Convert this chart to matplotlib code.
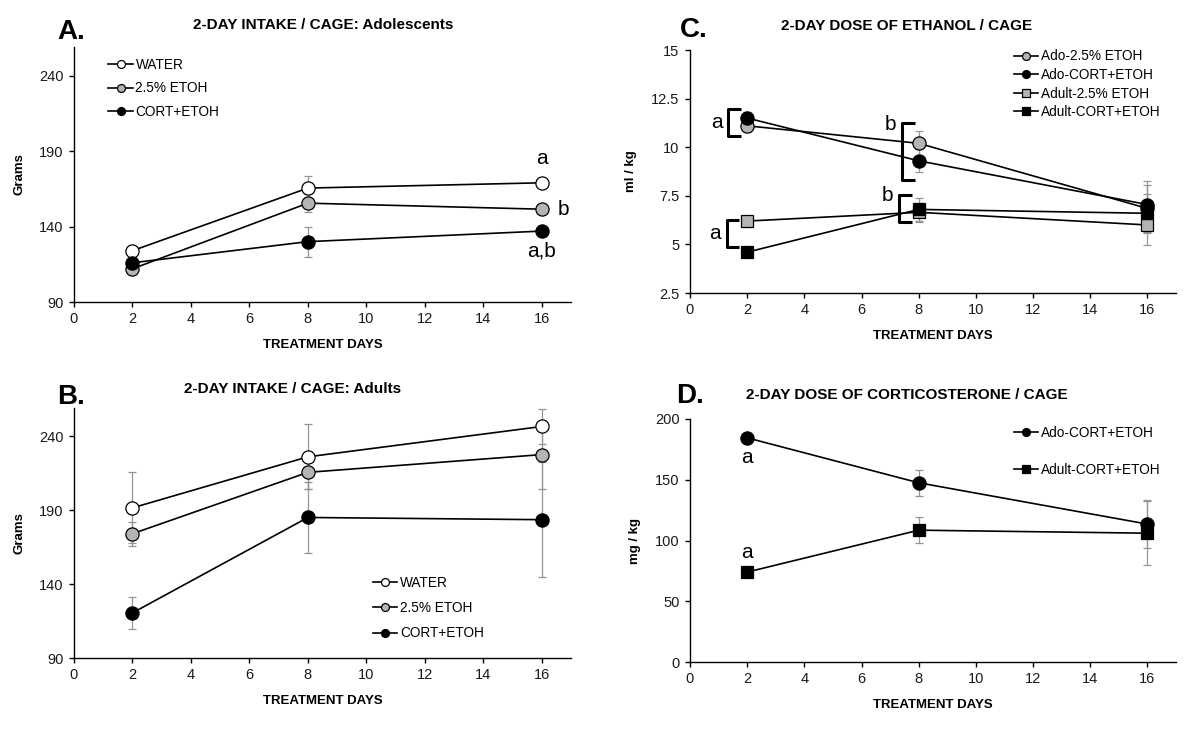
import matplotlib
matplotlib.use("Agg")
import matplotlib.pyplot as plt
import numpy as np

plt.rcParams['font.family'] = ['Liberation Sans', 'DejaVu Sans']

days = [2, 8, 16]

# Panel A: adolescents intake (grams)
a_water = [124, 165.5, 169]
a_water_err = [3, 8, 2]
a_etoh = [112, 155.5, 151.5]
a_etoh_err = [2, 6, 2]
a_cort = [116, 130, 137]
a_cort_err = [3, 10, 2]

# Panel B: adults intake (grams)
b_water = [191.5, 226, 246.5]
b_water_err = [24, 22, 12]
b_etoh = [174, 215.5, 227.5]
b_etoh_err = [8, 11, 23]
b_cort = [120.5, 185, 183.5]
b_cort_err = [11, 24, 39]

# Panel C: ethanol dose (ml/kg)
c_ado_etoh = [11.1, 10.2, 6.85]
c_ado_etoh_err = [0.3, 0.65, 1.2]
c_ado_cort = [11.5, 9.3, 7.05]
c_ado_cort_err = [0.3, 0.6, 1.2]
c_adult_etoh = [6.2, 6.65, 6.0]
c_adult_etoh_err = [0.2, 0.5, 1.05]
c_adult_cort = [4.6, 6.8, 6.6]
c_adult_cort_err = [0.2, 0.6, 1.0]

# Panel D: corticosterone dose (mg/kg)
d_ado_cort = [184.5, 147.5, 113.5]
d_ado_cort_err = [2, 10.5, 19.5]
d_adult_cort = [74, 108.5, 106]
d_adult_cort_err = [2, 10.5, 26.5]

W, H = 1200, 735
fig = plt.figure(figsize=(12, 7.35), dpi=100)

def px_axes(x0, x1, ytop, ybot):
    return fig.add_axes([x0 / W, 1 - ybot / H, (x1 - x0) / W, (ybot - ytop) / H])

axA = px_axes(74, 571, 47, 302)
axB = px_axes(74, 571, 408, 658)
axC = px_axes(690, 1176, 50, 293)
axD = px_axes(690, 1176, 419, 662)

ERRC = '#959595'
GRAY = '#b4b4b4'
TXT = '#1a1a1a'

def series(ax, y, err, marker, face, label, ms=9.5):
    ax.errorbar(days, y, yerr=err, fmt='none', ecolor=ERRC, elinewidth=0.9,
                capsize=3, capthick=0.9, zorder=2)
    ax.plot(days, y, color='black', lw=1.2, marker=marker, ms=ms,
            mfc=face, mec='black', mew=0.9, label=label, zorder=3)

def style(ax, ylim, yticks, ylabel, yfmt=None):
    ax.set_xlim(0, 17)
    ax.set_ylim(*ylim)
    ax.set_xticks(range(0, 17, 2))
    ax.set_yticks(yticks)
    if yfmt:
        ax.set_yticklabels([yfmt(v) for v in yticks])
    for s in ['top', 'right']:
        ax.spines[s].set_visible(False)
    for s in ['left', 'bottom']:
        ax.spines[s].set_linewidth(1.0)
    ax.tick_params(direction='out', length=3.5, width=1.0, labelsize=10.5, pad=4,
                   colors='black', labelcolor=TXT)
    ax.set_xlabel('TREATMENT DAYS', fontsize=9.5, fontweight='bold', labelpad=9)
    ax.set_ylabel(ylabel, fontsize=9.5, fontweight='bold', labelpad=10)

LEG = dict(frameon=False, fontsize=9.8, handlelength=1.8, handletextpad=0.2,
           markerscale=0.6, borderaxespad=0, loc='upper left')

# ---- Panel A
series(axA, a_water, a_water_err, 'o', 'white', 'WATER')
series(axA, a_etoh, a_etoh_err, 'o', GRAY, '2.5% ETOH')
series(axA, a_cort, a_cort_err, 'o', 'black', 'CORT+ETOH')
style(axA, (90, 259), [90, 140, 190, 240], 'Grams')
axA.legend(bbox_to_anchor=(0.058, 0.98), labelspacing=0.72, **LEG)
axA.text(days[2], a_water[2] + 10, 'a', ha='center', va='bottom', fontsize=15)
axA.text(days[2] + 0.55, a_etoh[2], 'b', ha='left', va='center', fontsize=15)
axA.text(days[2], a_cort[2] - 7, 'a,b', ha='center', va='top', fontsize=15)

# ---- Panel B
series(axB, b_water, b_water_err, 'o', 'white', 'WATER')
series(axB, b_etoh, b_etoh_err, 'o', GRAY, '2.5% ETOH')
series(axB, b_cort, b_cort_err, 'o', 'black', 'CORT+ETOH')
style(axB, (90, 259), [90, 140, 190, 240], 'Grams')
axB.legend(bbox_to_anchor=(0.59, 0.35), labelspacing=0.82, **LEG)

# ---- Panel C
series(axC, c_ado_etoh, c_ado_etoh_err, 'o', GRAY, 'Ado-2.5% ETOH')
series(axC, c_ado_cort, c_ado_cort_err, 'o', 'black', 'Ado-CORT+ETOH')
series(axC, c_adult_etoh, c_adult_etoh_err, 's', GRAY, 'Adult-2.5% ETOH', ms=8.5)
series(axC, c_adult_cort, c_adult_cort_err, 's', 'black', 'Adult-CORT+ETOH', ms=8.5)
style(axC, (2.5, 15), [2.5, 5, 7.5, 10, 12.5, 15], 'ml / kg',
      yfmt=lambda v: ('%g' % v))
axC.legend(bbox_to_anchor=(0.655, 1.025), labelspacing=0.34, **LEG)

# brackets (annotation spans, in data units)
br_day = [2, 8, 2, 8]
br_lo = [10.57, 8.32, 4.87, 6.17]
br_hi = [11.97, 11.22, 6.28, 7.54]
br_lab = ['a', 'b', 'a', 'b']
br_off = [0.67, 0.58, 0.72, 0.7]
for d, lo, hi, lab, off in zip(br_day, br_lo, br_hi, br_lab, br_off):
    x0 = d - off
    x1 = x0 + 0.45
    axC.plot([x1, x0, x0, x1], [hi, hi, lo, lo], color='black', lw=2.2,
             solid_capstyle='butt', zorder=4)
    ytxt = (lo + hi) / 2 if d == 2 else hi - 0.05
    axC.text(x0 - 0.2, ytxt, lab, ha='right', va='center', fontsize=15)

# ---- Panel D
series(axD, d_ado_cort, d_ado_cort_err, 'o', 'black', 'Ado-CORT+ETOH')
series(axD, d_adult_cort, d_adult_cort_err, 's', 'black', 'Adult-CORT+ETOH', ms=8.5)
style(axD, (0, 200), [0, 50, 100, 150, 200], 'mg / kg')
axD.legend(bbox_to_anchor=(0.655, 0.995), labelspacing=1.73, **LEG)
axD.text(days[0], d_ado_cort[0] - 8, 'a', ha='center', va='top', fontsize=15)
axD.text(days[0], d_adult_cort[0] + 8, 'a', ha='center', va='bottom', fontsize=15)

# ---- Titles and panel letters
def ftext(x, y, s, **kw):
    fig.text(x / W, 1 - y / H, s, **kw)

ftext(323, 25, '2-DAY INTAKE / CAGE: Adolescents', ha='center', va='center',
      fontsize=11, fontweight='bold')
ftext(293, 389, '2-DAY INTAKE / CAGE: Adults', ha='center', va='center',
      fontsize=11, fontweight='bold')
ftext(907, 26, '2-DAY DOSE OF ETHANOL / CAGE', ha='center', va='center',
      fontsize=11, fontweight='bold')
ftext(907, 395, '2-DAY DOSE OF CORTICOSTERONE / CAGE', ha='center', va='center',
      fontsize=11, fontweight='bold')

ftext(57, 32, 'A.', ha='left', va='center', fontsize=20, fontweight='bold')
ftext(57, 397, 'B.', ha='left', va='center', fontsize=20, fontweight='bold')
ftext(680, 30, 'C.', ha='left', va='center', fontsize=20, fontweight='bold')
ftext(676, 396, 'D.', ha='left', va='center', fontsize=20, fontweight='bold')

fig.savefig('out.png', dpi=100, facecolor='white')
